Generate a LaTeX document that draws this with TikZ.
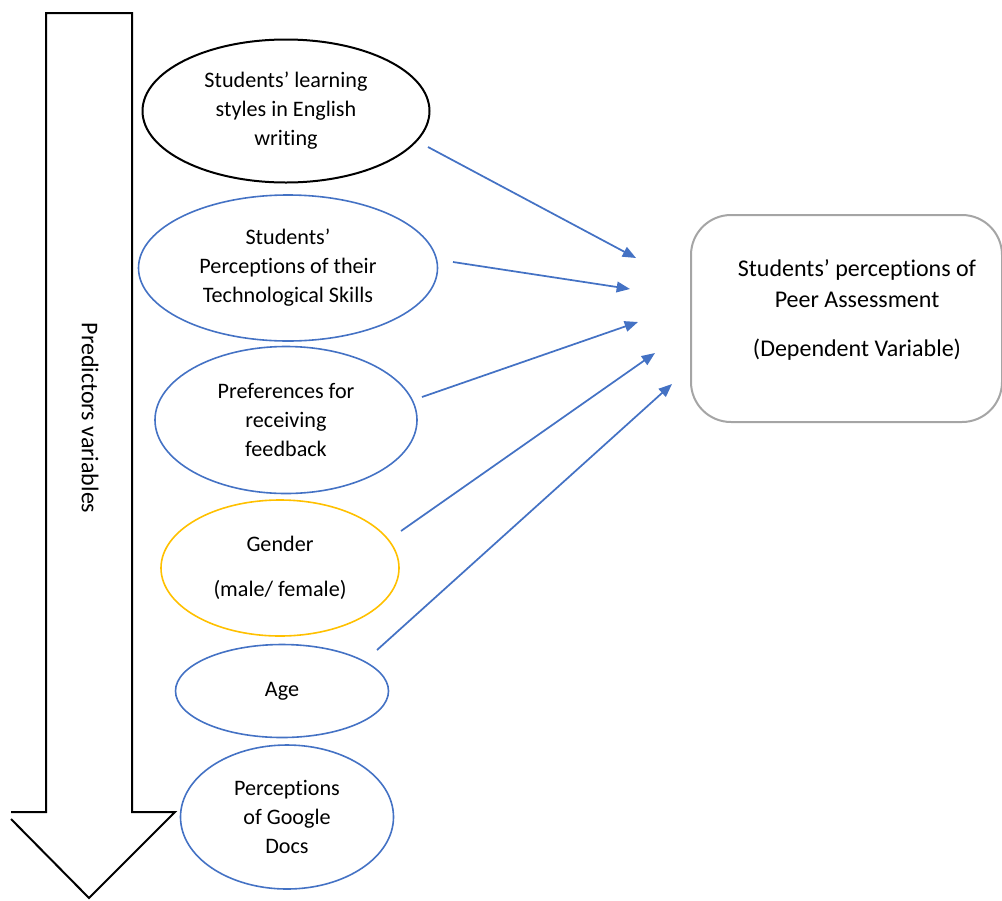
\documentclass[tikz,border=0pt]{standalone}
\usepackage{fontspec}
\setmainfont[Ligatures={NoCommon}]{Carlito}
\usetikzlibrary{shapes.geometric,arrows.meta}
\definecolor{ablue}{HTML}{4472C4}
\definecolor{ayellow}{HTML}{FFC000}
\definecolor{agray}{HTML}{A5A5A5}
\newcommand{\tIsep}{t\kern0pt i}
\begin{document}
\begin{tikzpicture}[x=0.75pt,y=-0.75pt,
  txt/.style={font=\fontsize{16.6}{21.75}\selectfont, align=center},
  bigtxt/.style={font=\fontsize{18}{23.25}\selectfont, align=center},
  ell/.style={ellipse, draw=ablue, line width=1.2pt, inner sep=0pt, txt},
  conn/.style={draw=ablue, line width=1.3pt, -{Triangle[length=10pt,width=8pt]}}]
\useasboundingbox (0,0) rectangle (1002,900);
% big arrow
\draw[line width=1.5pt, line join=miter] (11,812) -- (46,812) -- (46,13) -- (132,13) -- (132,812) -- (175,812) -- (89,898) -- (11,819);
\node[bigtxt, rotate=-90] (pv) at (90,418) {Predictors variables};
% ellipses
\node[ell, draw=black, line width=1.5pt, minimum width=215.25pt, minimum height=107.25pt] (e1) at (286,111) {Students’ learning\\styles in English\\writing};
\node[ell, minimum width=224.25pt, minimum height=109.5pt] (e2) at (288,268) {Students’\\Percep\tIsep ons of their\\Technological Skills};
\node[ell, minimum width=196.5pt, minimum height=110.25pt] (e3) at (286,420) {Preferences for\\receiving\\feedback};
\node[ell, draw=ayellow, minimum width=178.5pt, minimum height=102pt] (e4) at (280,568) {Gender\\[12pt](male/ female)};
\node[ell, minimum width=159.75pt, minimum height=69.75pt] (e5) at (282,691) {Age};
\node[ell, minimum width=159.75pt, minimum height=108pt] (e6) at (287,817) {Percep\tIsep ons\\of Google\\Docs};
% dependent box
\node[draw=agray, line width=1.5pt, rounded corners=30pt, minimum width=233.25pt, minimum height=155.25pt] (dv) at (846.5,318.5) {};
\node[bigtxt] (dvt) at (857,310) {Students’ percep\tIsep ons of\\Peer Assessment\\[14pt](Dependent Variable)};
% connectors
\coordinate (s1) at (428,147); \coordinate (t1) at (636,258);
\coordinate (s2) at (453,262); \coordinate (t2) at (630,289);
\coordinate (s3) at (422,397); \coordinate (t3) at (638,322);
\coordinate (s4) at (401,531); \coordinate (t4) at (655,353);
\coordinate (s5) at (377,650); \coordinate (t5) at (672,384);
\draw[conn] (s1) -- (t1);
\draw[conn] (s2) -- (t2);
\draw[conn] (s3) -- (t3);
\draw[conn] (s4) -- (t4);
\draw[conn] (s5) -- (t5);
\end{tikzpicture}
\end{document}
